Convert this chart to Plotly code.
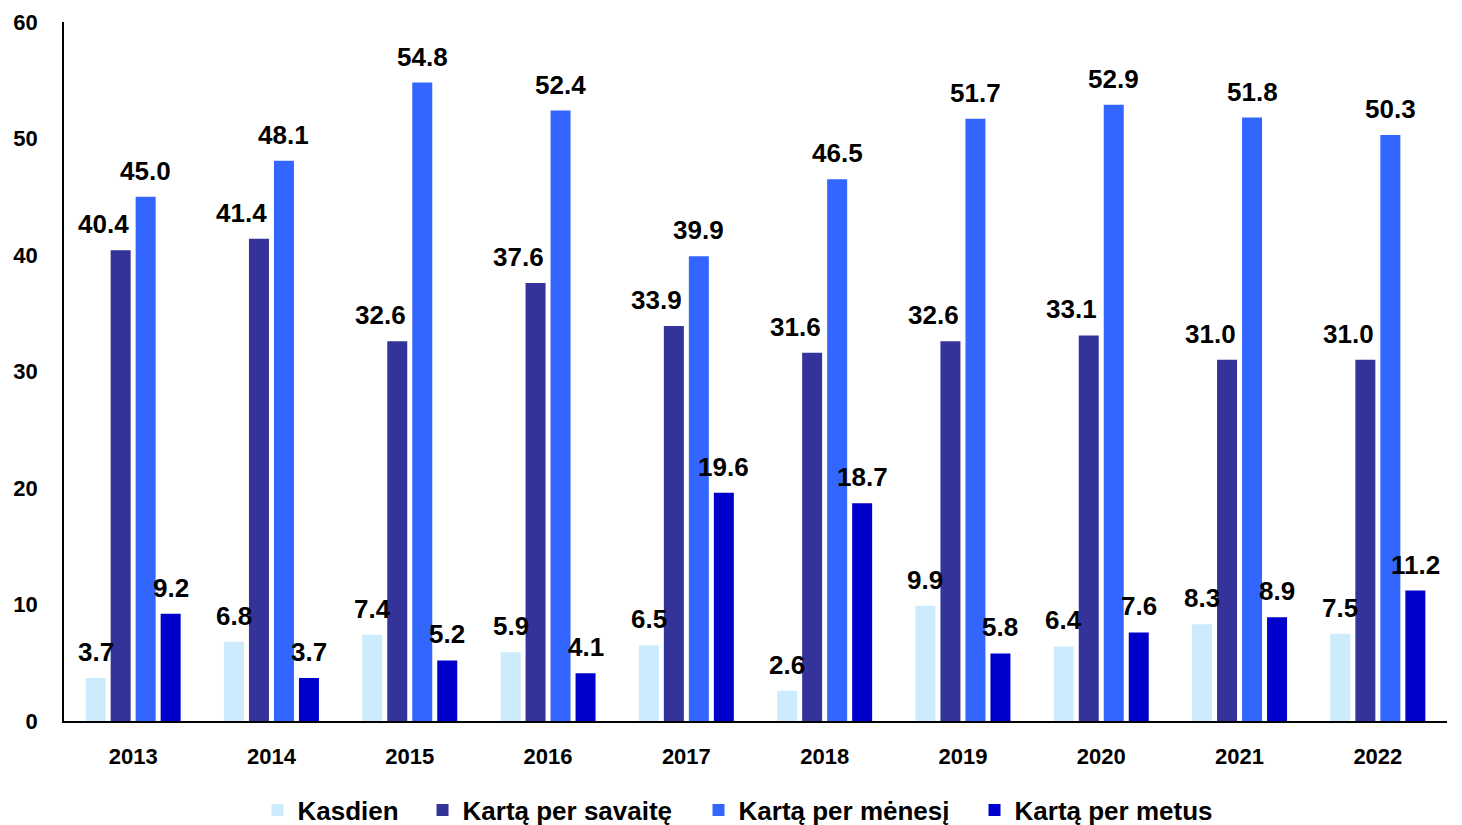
import plotly.graph_objects as go

years = ["2013", "2014", "2015", "2016", "2017", "2018", "2019", "2020", "2021", "2022"]
series_names = ["Kasdien", "Kartą per savaitę", "Kartą per mėnesį", "Kartą per metus"]
kasdien = [3.7, 6.8, 7.4, 5.9, 6.5, 2.6, 9.9, 6.4, 8.3, 7.5]
savaite = [40.4, 41.4, 32.6, 37.6, 33.9, 31.6, 32.6, 33.1, 31.0, 31.0]
menesi = [45.0, 48.1, 54.8, 52.4, 39.9, 46.5, 51.7, 52.9, 51.8, 50.3]
metus = [9.2, 3.7, 5.2, 4.1, 19.6, 18.7, 5.8, 7.6, 8.9, 11.2]
colors = ["#CCEBFC", "#333399", "#3366FF", "#0000CC"]

all_series = [kasdien, savaite, menesi, metus]
label_xshift = [0, -17, 0, 0]
legend_widths = [120, 231, 231, None]

BARGAP = 0.277
BARGROUPGAP = 0.2
slot = (1 - BARGAP) / len(all_series)

fig = go.Figure()
for name, vals, col, lw in zip(series_names, all_series, colors, legend_widths):
    fig.add_trace(go.Bar(x=years, y=vals, name=name, legendwidth=lw,
                         marker=dict(color=col, line=dict(width=0))))

annotations = []
for si, vals in enumerate(all_series):
    off = (si - (len(all_series) - 1) / 2) * slot
    for ci, v in enumerate(vals):
        annotations.append(dict(
            x=ci + off, y=v, xref="x", yref="y", text=f"{v:.1f}",
            showarrow=False, yanchor="middle", xanchor="center",
            yshift=26, xshift=label_xshift[si],
            font=dict(family="Liberation Sans, Arial, sans-serif", size=26, color="#000000", weight="bold"),
        ))

fig.update_layout(
    width=1462, height=825,
    margin=dict(l=64, r=15, t=22, b=104, autoexpand=False),
    paper_bgcolor="white", plot_bgcolor="white",
    barmode="group", bargap=BARGAP, bargroupgap=BARGROUPGAP,
    annotations=annotations,
    showlegend=True,
    legend=dict(orientation="h", x=0.487, xanchor="center", xref="paper",
                y=0.018, yref="container", yanchor="middle",
                font=dict(family="Liberation Sans Narrow, Arial Narrow, Liberation Sans, sans-serif",
                          size=26, color="#000000", weight="bold"),
                itemwidth=30, traceorder="normal"),
    font=dict(family="Liberation Sans, Arial, sans-serif", color="#000000"),
)
fig.update_xaxes(type="category", showline=True, linecolor="#000000", linewidth=1.5,
                 showgrid=False, ticks="", ticklabelstandoff=15, automargin=False,
                 tickfont=dict(family="Liberation Sans, Arial, sans-serif", size=22, color="#000000", weight="bold"))
fig.update_yaxes(range=[0, 60], dtick=10, showline=True, linecolor="#000000", linewidth=1.5,
                 showgrid=False, zeroline=False, ticks="", ticklabelstandoff=20, automargin=False,
                 tickfont=dict(family="Liberation Sans, Arial, sans-serif", size=22, color="#000000", weight="bold"))

fig.write_html("out.html", config={"displayModeBar": False},
               post_script="document.body.style.margin='0';document.body.style.overflow='hidden';")
